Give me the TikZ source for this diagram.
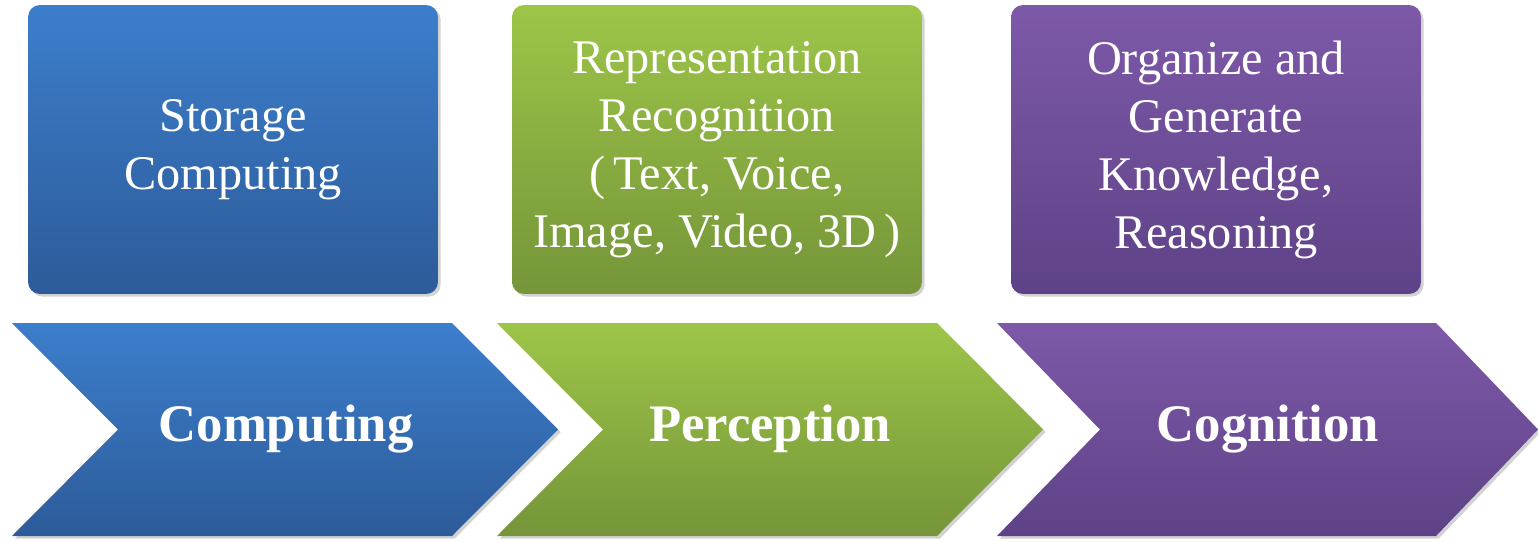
\documentclass[tikz,border=0pt]{standalone}
\usepackage{fontspec}
\setmainfont{Liberation Serif}
\usetikzlibrary{shadows}
\definecolor{bluetop}{RGB}{60,126,204}
\definecolor{bluebot}{RGB}{45,91,153}
\definecolor{greentop}{RGB}{157,197,72}
\definecolor{greenbot}{RGB}{117,149,57}
\definecolor{purptop}{RGB}{125,89,168}
\definecolor{purpbot}{RGB}{94,66,135}
\begin{document}
\begin{tikzpicture}[x=0.02cm, y=-0.02cm,
  shad/.style={drop shadow={shadow xshift=1.5pt, shadow yshift=-1.5pt, opacity=0.25, fill=black!70}},
  box/.style={shad, rounded corners=0.24cm, minimum width=8.2cm, minimum height=5.78cm,
              align=center, text=white, font=\fontsize{27.5}{33}\selectfont},
  lbl/.style={text=white, font=\fontsize{30}{36}\selectfont\bfseries},
  blu/.style={top color=bluetop, bottom color=bluebot},
  grn/.style={top color=greentop, bottom color=greenbot},
  prp/.style={top color=purptop, bottom color=purpbot},
]
  \useasboundingbox (0,0) rectangle (1538,541);

  % upper boxes
  \node[box, blu] (store) at (233,149.5) {Storage\\Computing};
  \node[box, grn] (recog) at (717,149.5) {Representation\\Recognition\\(\,Text, Voice,\\Image, Video, 3D\,)};
  \node[box, prp] (reason) at (1216,149.5) {Organize and\\Generate\\Knowledge,\\Reasoning};

  % chevrons
  \path[shad, blu] (12,323) -- (452,323) -- (558,429.5) -- (452,536) -- (12,536) -- (118,429.5) -- cycle;
  \path[shad, grn] (497,323) -- (937,323) -- (1043,429.5) -- (937,536) -- (497,536) -- (603,429.5) -- cycle;
  \path[shad, prp] (997,323) -- (1436,323) -- (1538,429.5) -- (1436,536) -- (997,536) -- (1100,429.5) -- cycle;

  \node[lbl] (comp) at (286,429) {Computing};
  \node[lbl] (perc) at (770,429) {Perception};
  \node[lbl] (cogn) at (1268,429) {Cognition};
\end{tikzpicture}
\end{document}
